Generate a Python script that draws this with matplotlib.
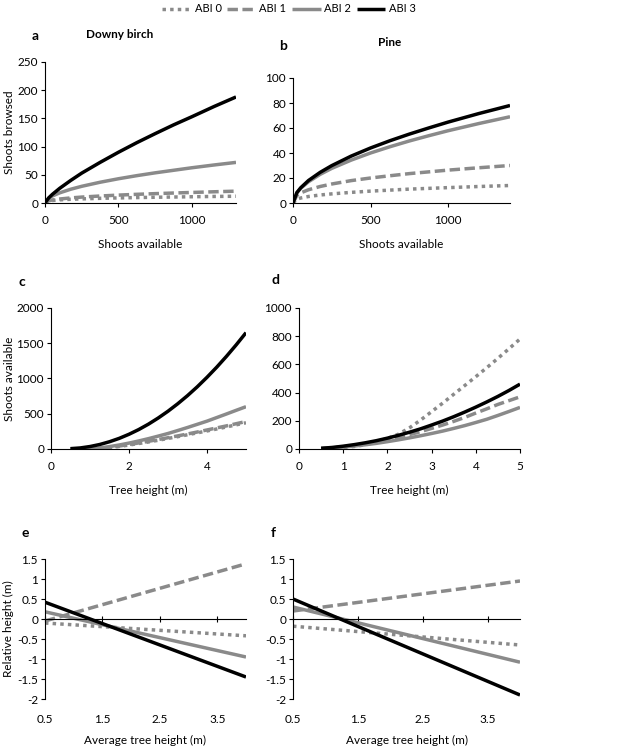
import matplotlib
matplotlib.use("Agg")
import matplotlib.pyplot as plt

plt.rcParams["font.family"] = ["Lato", "DejaVu Sans"]
plt.rcParams["font.size"] = 8.5

GRAY = "#8a8a8a"
series_names = ["ABI 0", "ABI 1", "ABI 2", "ABI 3"]
styles = [
    dict(color=GRAY, linestyle=(0, (1, 1.2)), lw=2.5),
    dict(color=GRAY, linestyle=(0, (3.0, 1.3)), lw=2.5),
    dict(color=GRAY, linestyle="-", lw=2.5),
    dict(color="black", linestyle="-", lw=2.5),
]

# a: downy birch, shoots browsed vs shoots available
a_x = [0, 25, 50, 100, 175, 250, 375, 500, 625, 750, 875, 1000, 1150, 1300]
a_abi0 = [0, 3.7, 4.5, 5.6, 6.6, 7.3, 8.3, 9, 9.6, 10.2, 10.6, 11.1, 11.6, 12]
a_abi1 = [0, 4, 5.3, 7.1, 9, 10.5, 12.4, 14, 15.4, 16.6, 17.7, 18.7, 19.9, 21]
a_abi2 = [0, 8.5, 12.4, 18, 24.4, 29.6, 36.8, 43, 48.5, 53.5, 58, 62.5, 67.4, 72]
a_abi3 = [0, 9, 15.3, 26, 40, 53, 72, 90, 107, 123, 138.5, 153, 171, 188]

# b: pine, shoots browsed vs shoots available
b_x = [0, 25, 50, 100, 175, 250, 375, 500, 625, 750, 875, 1000, 1200, 1400]
b_abi0 = [0, 3.1, 4, 5.2, 6.4, 7.3, 8.5, 9.5, 10.3, 11.1, 11.7, 12.3, 13.2, 14]
b_abi1 = [0, 6.1, 8.1, 10.6, 13.2, 15.2, 17.9, 20, 21.8, 23.5, 24.9, 26.3, 28.2, 30]
b_abi2 = [0, 8.2, 11.8, 17, 22.9, 27.7, 34.3, 40, 45, 49.6, 53.8, 57.8, 63.6, 69]
b_abi3 = [0, 8.3, 12.2, 18, 24.5, 29.9, 37.5, 44, 49.8, 55.1, 60, 64.7, 71.6, 78]

# c: downy birch, shoots available vs tree height
c_x = [0.5, 0.75, 1, 1.25, 1.5, 1.75, 2, 2.25, 2.5, 2.75,
       3, 3.25, 3.5, 3.75, 4, 4.25, 4.5, 4.75, 5]
c_abi0 = [0, 0, 0, 3, 18, 36, 56, 78, 100, 124, 150, 175, 202, 229, 256, 284, 313, 343, 372]
c_abi1 = [0, 0, 0, 7, 23, 42, 63, 86, 109, 134, 160, 186, 213, 241, 270, 299, 328, 359, 390]
c_abi2 = [0, 0, 2, 15, 34, 57, 84, 114, 147, 183, 220, 262, 305, 350, 395, 446, 497, 549, 600]
c_abi3 = [5, 15, 35, 64, 103, 151, 209, 276, 353, 440, 536, 642, 757, 882, 1017, 1161, 1315, 1478, 1650]

# d: pine, shoots available vs tree height
d_x = [0.5, 0.75, 1, 1.25, 1.5, 1.75, 2, 2.25, 2.5, 2.75,
       3, 3.25, 3.5, 3.75, 4, 4.25, 4.5, 4.75, 5]
d_abi0 = [2, 5, 10, 18, 30, 50, 75, 105, 150, 205, 265, 325, 388, 450, 513, 577, 643, 711, 780]
d_abi1 = [3, 8, 16, 25, 37, 50, 66, 83, 102, 123, 146, 170, 196, 224, 255, 285, 316, 343, 370]
d_abi2 = [3, 8, 14, 21, 30, 40, 52, 65, 79, 94, 110, 127, 146, 166, 188, 211, 238, 266, 295]
d_abi3 = [5, 11, 20, 31, 44, 59, 77, 97, 119, 143, 170, 198, 229, 262, 297, 334, 373, 415, 460]

# e, f: relative height vs average tree height
ef_x = [0.5, 4.0]
e_abi0 = [-0.10, -0.42]
e_abi1 = [-0.05, 1.38]
e_abi2 = [0.18, -0.95]
e_abi3 = [0.42, -1.45]
f_abi0 = [-0.18, -0.65]
f_abi1 = [0.20, 0.95]
f_abi2 = [0.30, -1.08]
f_abi3 = [0.50, -1.90]

W, H = 638, 752
fig = plt.figure(figsize=(W / 100, H / 100), dpi=100)


def box(l, r, t, b):
    return [l / W, 1 - b / H, (r - l) / W, (b - t) / H]


def style_ax(ax):
    for s in ["top", "right"]:
        ax.spines[s].set_visible(False)
    for s in ["left", "bottom"]:
        ax.spines[s].set_linewidth(0.8)
    ax.tick_params(axis="y", direction="out", length=3, width=0.8, pad=2)
    ax.tick_params(axis="x", direction="out", length=3, width=0.8, pad=6)


def draw(ax, x, ys):
    lines = []
    for y, st in zip(ys, styles):
        ln, = ax.plot(x, y, solid_capstyle="butt", dash_capstyle="butt", **st)
        lines.append(ln)
    return lines


ax_a = fig.add_axes(box(45, 236, 62, 203))
handles = draw(ax_a, a_x, [a_abi0, a_abi1, a_abi2, a_abi3])
ax_a.set_xlim(0, 1300)
ax_a.set_ylim(0, 250)
ax_a.set_xticks([0, 500, 1000])
ax_a.set_yticks(range(0, 251, 50))
ax_a.set_xlabel("Shoots available", labelpad=9)
ax_a.set_ylabel("Shoots browsed")
ax_a.yaxis.set_label_coords(-0.155, 0.5)

ax_b = fig.add_axes(box(293, 510, 78, 203))
draw(ax_b, b_x, [b_abi0, b_abi1, b_abi2, b_abi3])
ax_b.set_xlim(0, 1400)
ax_b.set_ylim(0, 100)
ax_b.set_xticks([0, 500, 1000])
ax_b.set_yticks(range(0, 101, 20))
ax_b.set_xlabel("Shoots available", labelpad=9)

ax_c = fig.add_axes(box(51, 246, 308, 449))
draw(ax_c, c_x, [c_abi0, c_abi1, c_abi2, c_abi3])
ax_c.set_xlim(0, 5)
ax_c.set_ylim(0, 2000)
ax_c.set_xticks([0, 2, 4])
ax_c.set_yticks(range(0, 2001, 500))
ax_c.set_xlabel("Tree height (m)", labelpad=9)
ax_c.set_ylabel("Shoots available")
ax_c.yaxis.set_label_coords(-0.185, 0.5)

ax_d = fig.add_axes(box(299, 520, 308, 449))
draw(ax_d, d_x, [d_abi0, d_abi1, d_abi2, d_abi3])
ax_d.set_xlim(0, 5)
ax_d.set_ylim(0, 1000)
ax_d.set_xticks(range(0, 6))
ax_d.set_yticks(range(0, 1001, 200))
ax_d.set_xlabel("Tree height (m)", labelpad=9)

ax_e = fig.add_axes(box(45, 246, 559, 699))
draw(ax_e, ef_x, [e_abi0, e_abi1, e_abi2, e_abi3])
ax_f = fig.add_axes(box(293, 520, 559, 699))
draw(ax_f, ef_x, [f_abi0, f_abi1, f_abi2, f_abi3])

for ax in [ax_a, ax_b, ax_c, ax_d, ax_e, ax_f]:
    style_ax(ax)

for ax in [ax_e, ax_f]:
    ax.set_xlim(0.5, 4.0)
    ax.set_ylim(-2, 1.5)
    ax.set_yticks([-2, -1.5, -1, -0.5, 0, 0.5, 1, 1.5])
    ax.set_yticklabels(["-2", "-1.5", "-1", "-0.5", "0", "0.5", "1", "1.5"])
    ax.spines["bottom"].set_position(("data", 0))
    ax.set_xticks([0.5, 1.5, 2.5, 3.5])
    ax.tick_params(axis="x", direction="inout", length=5, labelbottom=False)
    sec = ax.secondary_xaxis(0.0)
    sec.set_xticks([0.5, 1.5, 2.5, 3.5])
    sec.spines["bottom"].set_visible(False)
    sec.tick_params(length=0, pad=11)
    sec.set_xlabel("Average tree height (m)", labelpad=7)
ax_e.set_ylabel("Relative height (m)")
ax_e.yaxis.set_label_coords(-0.155, 0.5)

# panel letters and titles
fig.text(35 / W, 1 - 36 / H, "a", fontsize=10, fontweight="bold", ha="center", va="center")
fig.text(120 / W, 1 - 35 / H, "Downy birch", fontweight="bold", ha="center", va="center")
fig.text(283 / W, 1 - 46 / H, "b", fontsize=10, fontweight="bold", ha="center", va="center")
fig.text(390 / W, 1 - 43 / H, "Pine", fontweight="bold", ha="center", va="center")
fig.text(22 / W, 1 - 282 / H, "c", fontsize=10, fontweight="bold", ha="center", va="center")
fig.text(275 / W, 1 - 280 / H, "d", fontsize=10, fontweight="bold", ha="center", va="center")
fig.text(25 / W, 1 - 533 / H, "e", fontsize=10, fontweight="bold", ha="center", va="center")
fig.text(273 / W, 1 - 533 / H, "f", fontsize=10, fontweight="bold", ha="center", va="center")

fig.legend(handles, series_names, loc="center", bbox_to_anchor=(289 / W, 1 - 9 / H),
           ncol=4, frameon=False, fontsize=8, handlelength=2.6, handletextpad=0.3,
           columnspacing=0.5, borderpad=0)

fig.savefig("out.png", dpi=100)
plt.close(fig)
